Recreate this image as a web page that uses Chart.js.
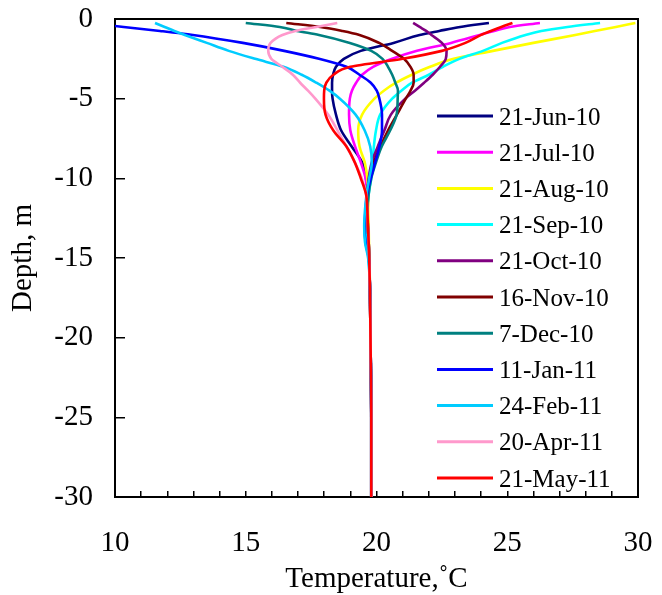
<!DOCTYPE html>
<html>
<head>
<meta charset="utf-8">
<script src="https://cdn.jsdelivr.net/npm/chart.js@4/dist/chart.umd.min.js"></script>
<style>
  html, body { margin: 0; padding: 0; background: #fff; }
</style>
</head>
<body>
<canvas id="grafica" width="662" height="595"></canvas>
<script>
// Profundidad común (m) y temperatura (°C) de cada perfil
const profundidad = [-0.25, -0.5, -0.75, -1, -1.5, -2, -2.5, -3, -3.5, -4, -4.5, -5, -6, -7, -8, -9, -10, -11, -12, -13, -14, -15, -17, -20, -25, -30];

const tJun = [24.3, 23.2, 22.4, 21.65, 20.65, 19.4, 18.75, 18.45, 18.34, 18.3, 18.3, 18.32, 18.45, 18.65, 19.05, 19.45, 19.6, 19.65, 19.65, 19.68, 19.7, 19.72, 19.75, 19.77, 19.8, 19.8];
const tJul = [26.25, 25.1, 24.5, 23.95, 22.85, 21.55, 20.6, 19.87, 19.45, 19.22, 19.06, 18.98, 18.95, 19.0, 19.18, 19.4, 19.58, 19.65, 19.66, 19.68, 19.7, 19.72, 19.75, 19.77, 19.8, 19.8];
const tAug = [29.9, 29.15, 28.35, 27.6, 26.0, 24.45, 22.95, 22.05, 21.35, 20.75, 20.28, 19.92, 19.45, 19.3, 19.35, 19.55, 19.65, 19.68, 19.68, 19.7, 19.71, 19.73, 19.75, 19.77, 19.8, 19.8];
const tSep = [28.55, 27.3, 26.3, 25.7, 24.8, 24.07, 23.17, 22.54, 22.0, 21.36, 20.95, 20.6, 20.14, 19.98, 19.9, 19.85, 19.8, 19.7, 19.64, 19.62, 19.64, 19.7, 19.75, 19.77, 19.8, 19.8];
const tOct = [21.4, 21.65, 21.9, 22.1, 22.5, 22.68, 22.65, 22.43, 22.15, 21.82, 21.47, 21.1, 20.55, 20.3, 20.05, 19.82, 19.7, 19.65, 19.65, 19.67, 19.7, 19.72, 19.75, 19.77, 19.8, 19.8];
const tNov = [16.55, 17.85, 18.7, 19.35, 20.1, 20.6, 21.05, 21.3, 21.42, 21.42, 21.3, 21.12, 20.78, 20.44, 20.15, 19.9, 19.72, 19.65, 19.65, 19.67, 19.7, 19.72, 19.75, 19.77, 19.8, 19.8];
const tDec = [15.0, 16.3, 16.96, 17.8, 18.98, 19.8, 20.23, 20.44, 20.6, 20.72, 20.82, 20.81, 20.77, 20.52, 20.2, 19.98, 19.8, 19.7, 19.66, 19.67, 19.7, 19.72, 19.75, 19.77, 19.8, 19.8];
const tJan = [9.0, 10.33, 11.72, 12.98, 14.89, 16.47, 17.8, 18.85, 19.35, 19.78, 20.01, 20.11, 20.21, 20.21, 20.11, 19.95, 19.78, 19.64, 19.58, 19.55, 19.58, 19.7, 19.75, 19.77, 19.8, 19.8];
const tFeb = [11.53, 11.9, 12.27, 12.67, 13.51, 14.35, 15.36, 16.44, 17.14, 17.7, 18.2, 18.6, 19.2, 19.55, 19.76, 19.82, 19.72, 19.62, 19.56, 19.53, 19.56, 19.68, 19.75, 19.77, 19.8, 19.8];
const tApr = [18.5, 17.7, 16.9, 16.4, 15.95, 15.86, 15.98, 16.4, 16.8, 17.08, 17.38, 17.66, 18.15, 18.51, 18.85, 19.17, 19.44, 19.6, 19.65, 19.67, 19.7, 19.72, 19.75, 19.77, 19.8, 19.8];
const tMay = [25.2, 24.77, 24.37, 24.0, 23.4, 22.5, 21.0, 19.0, 18.35, 18.08, 18.0, 17.99, 18.05, 18.35, 18.85, 19.17, 19.4, 19.6, 19.65, 19.67, 19.7, 19.72, 19.75, 19.77, 19.8, 19.8];

const fechas = ['21-Jun-10', '21-Jul-10', '21-Aug-10', '21-Sep-10', '21-Oct-10', '16-Nov-10', '7-Dec-10', '11-Jan-11', '24-Feb-11', '20-Apr-11', '21-May-11'];
const colores = ['#000080', '#FF00FF', '#FFFF00', '#00FFFF', '#800080', '#800000', '#008080', '#0000FF', '#00CCFF', '#FF99CC', '#FF0000'];
const series = [tJun, tJul, tAug, tSep, tOct, tNov, tDec, tJan, tFeb, tApr, tMay];

const ticksY = [0, -5, -10, -15, -20, -25, -30];

const fuente = 'Liberation Serif, Times New Roman, serif';

// Leyenda dentro del área del gráfico, como en la figura original
const leyendaInterna = {
  id: 'leyendaInterna',
  afterDraw(chart) {
    const ctx = chart.ctx;
    ctx.save();
    ctx.font = '25px ' + fuente;
    ctx.textBaseline = 'middle';
    chart.data.datasets.forEach((ds, i) => {
      const y = 116 + i * 36.2;
      ctx.strokeStyle = ds.borderColor;
      ctx.lineWidth = 3;
      ctx.beginPath();
      ctx.moveTo(437, y);
      ctx.lineTo(493, y);
      ctx.stroke();
      ctx.fillStyle = '#000';
      ctx.fillText(ds.label, 499, y + 2);
    });
    ctx.restore();
  }
};

// quitar el relleno automático que Chart.js reserva para las etiquetas
function sinRelleno(s) {
  s.paddingLeft = 0;
  s.paddingRight = 0;
  s.paddingTop = 0;
  s.paddingBottom = 0;
}

const datasets = series.map((temps, i) => ({
  label: fechas[i],
  data: profundidad.map((d, k) => ({ x: temps[k], y: d })),
  borderColor: colores[i],
  backgroundColor: colores[i],
  borderWidth: 2.6,
  pointRadius: 0,
  fill: false,
  cubicInterpolationMode: 'monotone',
  order: series.length - 1 - i
}));

new Chart(document.getElementById('grafica'), {
  type: 'line',
  data: { datasets },
  options: {
    responsive: false,
    animation: false,
    indexAxis: 'y',
    layout: { padding: { top: 19, right: 24, left: 0, bottom: 0 } },
    plugins: {
      legend: { display: false },
      tooltip: { enabled: false }
    },
    scales: {
      x: {
        type: 'linear',
        position: 'bottom',
        min: 10,
        max: 30,
        ticks: {
          stepSize: 1,
          autoSkip: false,
          maxRotation: 0,
          padding: 35,
          color: '#000',
          font: { family: fuente, size: 29, lineHeight: 1.2 },
          callback: v => (v % 5 === 0 ? v : '')
        },
        grid: { drawOnChartArea: false, drawTicks: true, tickLength: -6, color: '#000', lineWidth: 1.5 },
        border: { display: true, color: '#000', width: 2 },
        title: {
          display: true,
          text: 'Temperature,˚C',
          color: '#000',
          align: 'center',
          font: { family: fuente, size: 29, lineHeight: 1 },
          padding: { top: 0, bottom: 1.5 }
        },
        afterFit: s => { s.height = 98; sinRelleno(s); }
      },
      y: {
        type: 'linear',
        position: 'left',
        min: -30,
        max: 0,
        afterBuildTicks: s => { s.ticks = ticksY.map(v => ({ value: v })); },
        ticks: {
          padding: 32,
          color: '#000',
          font: { family: fuente, size: 29, lineHeight: 1.2 }
        },
        grid: { drawOnChartArea: false, drawTicks: true, tickLength: -10, color: '#000', lineWidth: 1.5 },
        border: { display: true, color: '#000', width: 2 },
        title: {
          display: true,
          text: 'Depth, m',
          color: '#000',
          font: { family: fuente, size: 29, lineHeight: 1 },
          padding: { top: 9, bottom: 0 }
        },
        afterFit: s => { s.width = 115; sinRelleno(s); }
      },
      x2: {
        type: 'linear',
        position: 'top',
        min: 10,
        max: 30,
        ticks: { display: false },
        grid: { drawOnChartArea: false, drawTicks: false },
        border: { display: true, color: '#000', width: 2 },
        afterFit: s => { s.height = 0; sinRelleno(s); }
      },
      y2: {
        type: 'linear',
        position: 'right',
        min: -30,
        max: 0,
        ticks: { display: false },
        grid: { drawOnChartArea: false, drawTicks: false },
        border: { display: true, color: '#000', width: 2 },
        afterFit: s => { s.width = 0; sinRelleno(s); }
      }
    }
  },
  plugins: [leyendaInterna]
});
</script>
</body>
</html>
